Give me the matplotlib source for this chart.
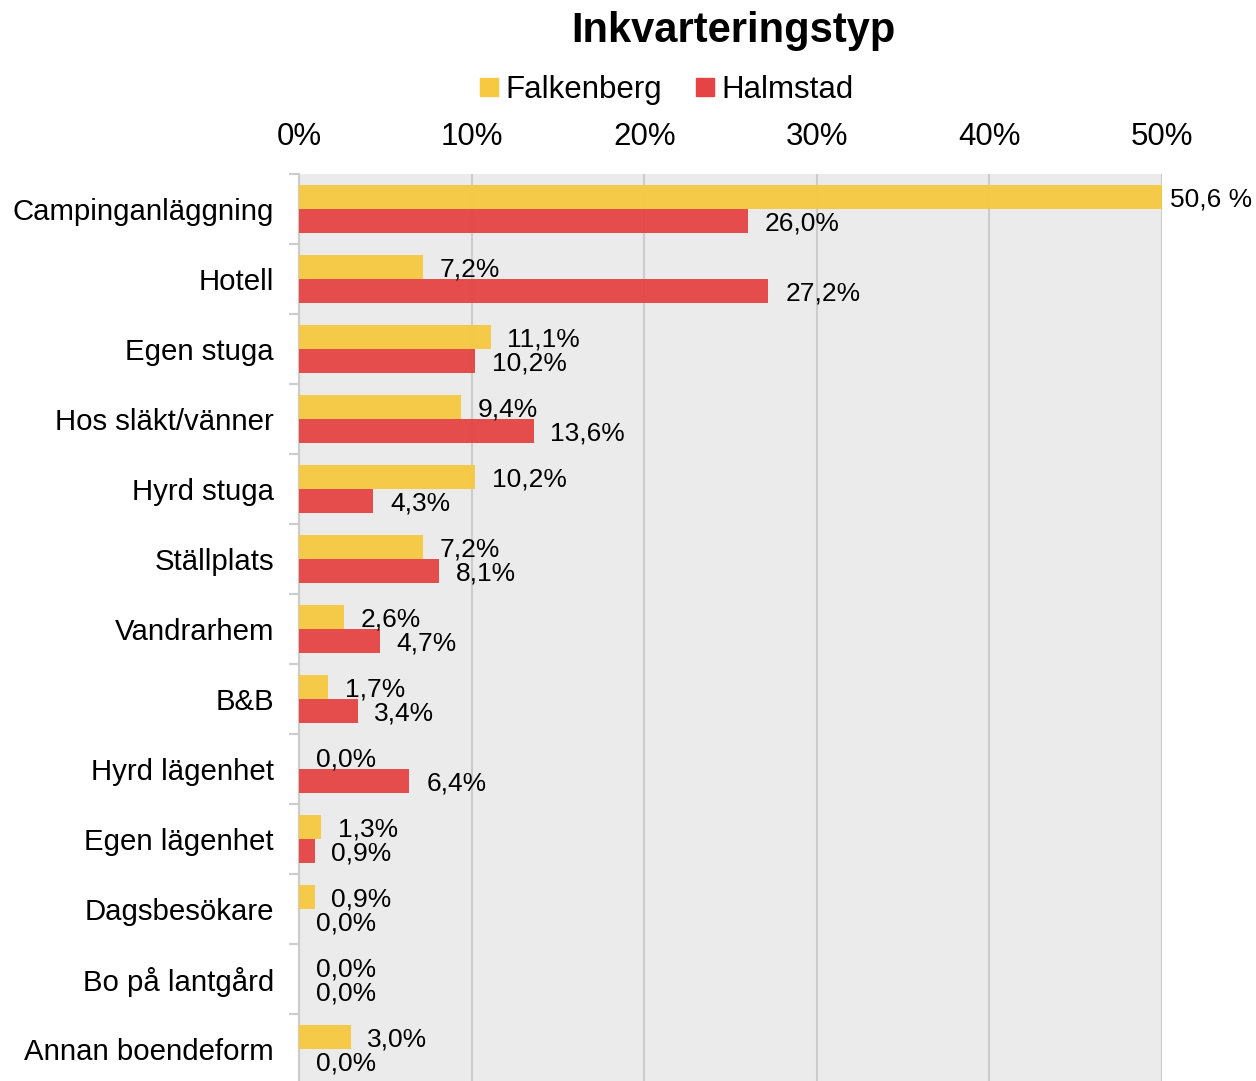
import matplotlib
matplotlib.use("Agg")
import matplotlib.pyplot as plt
from matplotlib.patches import Patch
import numpy as np

plt.rcParams['font.family'] = ['Liberation Sans', 'DejaVu Sans']

categories = ["Campinganläggning", "Hotell", "Egen stuga", "Hos släkt/vänner",
              "Hyrd stuga", "Ställplats", "Vandrarhem", "B&B", "Hyrd lägenhet",
              "Egen lägenhet", "Dagsbesökare", "Bo på lantgård", "Annan boendeform"]
falkenberg = [50.6, 7.2, 11.1, 9.4, 10.2, 7.2, 2.6, 1.7, 0.0, 1.3, 0.9, 0.0, 3.0]
halmstad = [26.0, 27.2, 10.2, 13.6, 4.3, 8.1, 4.7, 3.4, 6.4, 0.9, 0.0, 0.0, 0.0]
series_names = ["Falkenberg", "Halmstad"]
colors = ["#F7C940", "#E54444"]
x_ticks = [0, 10, 20, 30, 40, 50]

W, H = 1256, 1081
fig = plt.figure(figsize=(W / 100, H / 100), dpi=100)
ax = fig.add_axes([299 / W, (H - 1084) / H, 863 / W, 910 / H])
ax.set_facecolor("#ebebeb")

y = np.arange(len(categories))
bh = 0.343
ax.barh(y - bh / 2, falkenberg, height=bh, color=colors[0], alpha=0.95, zorder=3)
ax.barh(y + bh / 2, halmstad, height=bh, color=colors[1], alpha=0.95, zorder=3)

# datalabels, the clipped one sits right of the 50% edge
xmax = 50
for vals, off in ((falkenberg, -bh / 2), (halmstad, bh / 2)):
    for i, v in enumerate(vals):
        if v > xmax:
            txt = f"{v:.1f} %".replace(".", ",")
            ax.annotate(txt, (xmax, i + off), xytext=(6, -1.5), textcoords="offset points",
                        va="center", ha="left", fontsize=19, annotation_clip=False)
        else:
            txt = f"{v:.1f}%".replace(".", ",")
            ax.annotate(txt, (v, i + off), xytext=(12, -1.5), textcoords="offset points",
                        va="center", ha="left", fontsize=19, zorder=5)

ax.set_xlim(0, xmax)
ax.set_ylim(len(categories) - 0.5, -0.5)
ax.set_xticks(x_ticks)
ax.set_xticklabels([f"{t}%" for t in x_ticks])
ax.xaxis.tick_top()
ax.tick_params(axis="x", length=0, pad=16, labelsize=22.5)
ax.grid(axis="x", color="#cccccc", lw=1.5, zorder=1)

ax.set_yticks(y)
ax.set_yticklabels(categories)
ax.set_yticks(np.arange(len(categories) + 1) - 0.5, minor=True)
ax.tick_params(axis="y", which="major", length=0, pad=18, labelsize=21.2)
ax.tick_params(axis="y", which="minor", length=7, width=1.5, color="#cccccc", direction="out")

for s in ("top", "right", "bottom"):
    ax.spines[s].set_visible(False)
ax.spines["left"].set_color("#cccccc")
ax.spines["left"].set_linewidth(1.5)

fig.text(733 / W, 1 - 31 / H, "Inkvarteringstyp", ha="center", va="center",
         fontsize=30, fontweight="bold")

handles = [Patch(color=c) for c in colors]
fig.legend(handles, series_names, loc="center", bbox_to_anchor=(667 / W, 1 - 90 / H),
           ncol=2, frameon=False, fontsize=22.5, handlelength=0.55, handleheight=0.55,
           handletextpad=0.25, columnspacing=1.1, borderpad=0)

fig.savefig("out.png", dpi=100)
